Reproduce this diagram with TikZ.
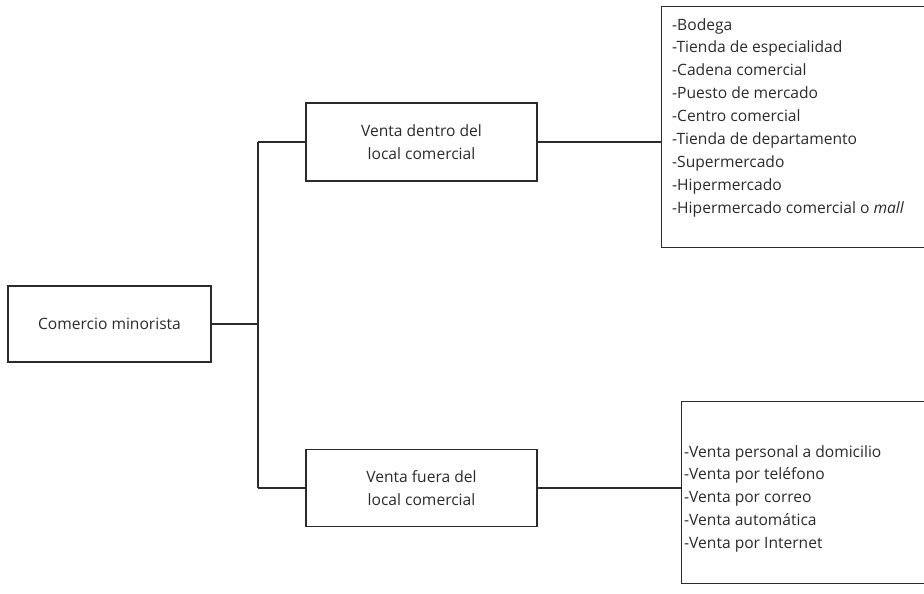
\documentclass[tikz,border=0pt]{standalone}
\usepackage{fontspec}
\setmainfont{Open Sans}
\definecolor{ink}{HTML}{2B2B2B}
\begin{document}
\begin{tikzpicture}[x=1pt,y=-1pt,
  line/.style={draw=ink,line width=1.3pt},
  box/.style={line,rectangle,inner sep=0pt,text=ink,align=center,
    font=\fontsize{15.6}{23}\selectfont},
  list/.style={inner sep=0pt,anchor=north west,align=left,text=ink,
    font=\fontsize{15.6}{22.9}\selectfont}]
\clip (0,0) rectangle (924,594);
\fill[white] (0,0) rectangle (924,594);

% main boxes
\node[box,minimum width=203pt,minimum height=76pt] (root) at (109.5,324) {Comercio minorista};
\node[box,minimum width=231pt,minimum height=78pt] (in) at (421.5,142) {Venta dentro del\\local comercial};
\node[box,minimum width=231pt,minimum height=77pt] (out) at (421.5,488) {Venta fuera del\\local comercial};

% list boxes (they run past the right edge)
\node[box,anchor=north west,minimum width=300pt,minimum height=241pt] (listA) at (661,6) {};
\node[box,anchor=north west,minimum width=300pt,minimum height=182pt] (listB) at (681,401) {};

\node[list] (listAtext) at (672,18) {-Bodega\\-Tienda de especialidad\\-Cadena comercial\\-Puesto de mercado\\-Centro comercial\\-Tienda de departamento\\-Supermercado\\-Hipermercado\\-Hipermercado comercial o \textit{mall}};
\node[list] (listBtext) at (684,445) {-Venta personal a domicilio\\-Venta por teléfono\\-Venta por correo\\-Venta automática\\-Venta por Internet};

% connectors
\coordinate (top) at (258,142);
\coordinate (bot) at (258,488);
\draw[line] (root.east) -- (root.east -| top);
\draw[line] (top) -- (bot);
\draw[line] (top) -- (in.west);
\draw[line] (bot) -- (out.west);
\draw[line] (in.east) -- (in.east -| listA.west);
\draw[line] (out.east) -- (out.east -| listB.west);
\end{tikzpicture}
\end{document}
